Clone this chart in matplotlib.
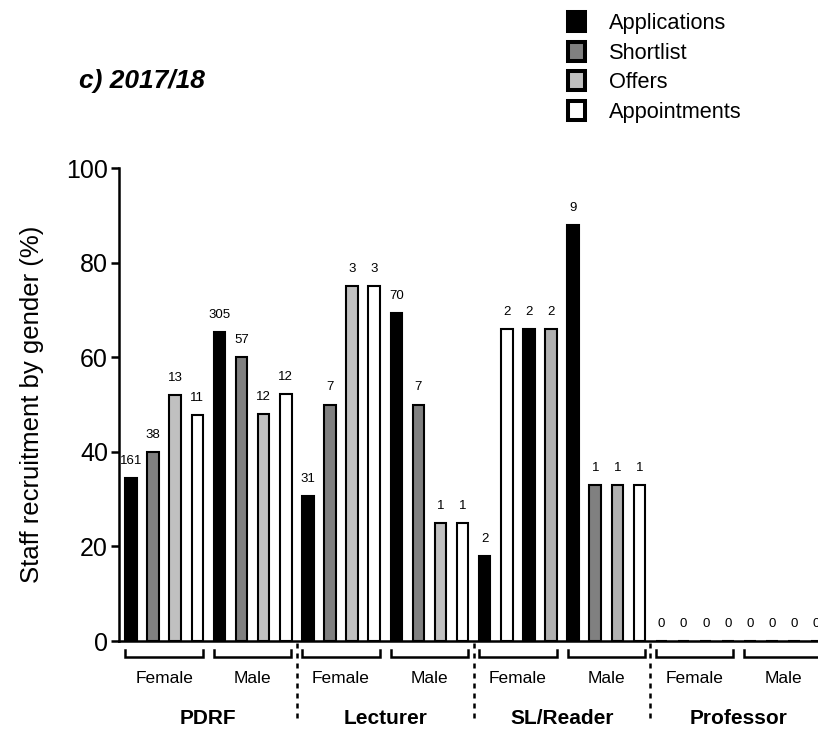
import matplotlib.pyplot as plt
from matplotlib.patches import Patch
import numpy as np

plt.rcParams['font.family'] = ['Liberation Sans', 'DejaVu Sans']

grades = ['PDRF', 'Lecturer', 'SL/Reader', 'Professor']
genders = ['Female', 'Male']
stages = ['Applications', 'Shortlist', 'Offers', 'Appointments']

# % by gender, order: PDRF F, PDRF M, Lecturer F, Lecturer M, SL F, SL M, Prof F, Prof M
applications = [34.5, 65.4, 30.7, 69.3, 18.0, 87.9, 0, 0]
shortlist = [40.0, 60.0, 50.0, 50.0, 66.0, 33.0, 0, 0]
offers = [52.0, 47.9, 75.0, 25.0, 66.0, 33.0, 0, 0]
appointments = [47.8, 52.2, 75.0, 25.0, 66.0, 33.0, 0, 0]

# head counts printed above the bars
applications_n = [161, 305, 31, 70, 2, 9, 0, 0]
shortlist_n = [38, 57, 7, 7, 2, 1, 0, 0]
offers_n = [13, 12, 3, 1, 2, 1, 0, 0]
appointments_n = [11, 12, 3, 1, 2, 1, 0, 0]

values = [applications, shortlist, offers, appointments]
counts = [applications_n, shortlist_n, offers_n, appointments_n]
colors = ['black', '#808080', '#c0c0c0', 'white']
# the original figure has a few bars shaded differently
color_fix = {(4, 1): 'white', (4, 2): 'black', (4, 3): '#b0b0b0', (5, 2): '#b0b0b0'}

fig = plt.figure(figsize=(8.18, 7.31), dpi=100)
ax = fig.add_axes([0.1455, 0.1231, 0.874, 0.647])

n_sub = len(grades) * len(genders)
for k in range(len(stages)):
    xs = np.arange(n_sub) * 4 + k
    cols = [color_fix.get((s, k), colors[k]) for s in range(n_sub)]
    ax.bar(xs, values[k], width=0.52, color=cols, edgecolor='black', linewidth=1.5)
    for x, v, c in zip(xs, values[k], counts[k]):
        ax.annotate(str(c), (x, v), xytext=(0, 8), textcoords='offset points',
                    ha='center', va='bottom', fontsize=9.5)

ax.set_xlim(-0.543, 31.8)
ax.set_ylim(0, 100)
ax.set_yticks([0, 20, 40, 60, 80, 100])
ax.set_xticks([])
ax.tick_params(axis='y', labelsize=18, length=6, width=1.8, pad=2)
ax.set_ylabel('Staff recruitment by gender (%)', fontsize=18.5, labelpad=16)
for side in ['top', 'right']:
    ax.spines[side].set_visible(False)
for side in ['left', 'bottom']:
    ax.spines[side].set_linewidth(1.8)

# brackets, gender and grade labels under the axis
tr = ax.get_xaxis_transform()
for g, grade in enumerate(grades):
    for s, gender in enumerate(genders):
        i0 = g * 8 + s * 4
        x0, x1 = i0 - 0.25, i0 + 3.25
        ax.plot([x0, x0, x1, x1], [-0.019, -0.034, -0.034, -0.019], color='black',
                lw=1.8, transform=tr, clip_on=False, solid_joinstyle='miter')
        ax.text(i0 + 1.5, -0.080, gender, transform=tr, ha='center', va='center',
                fontsize=12.5)
    ax.text(g * 8 + 3.5, -0.163, grade, transform=tr, ha='center', va='center',
            fontsize=15, fontweight='bold')
    if g > 0:
        ax.plot([g * 8 - 0.5] * 2, [-0.004, -0.167], color='black', lw=1.8,
                linestyle=(0, (2, 2)), transform=tr, clip_on=False)

fig.text(79 / 818, 1 - 81 / 731, 'c) 2017/18', fontsize=19, fontweight='bold',
         fontstyle='italic', ha='left', va='center')

handles = [Patch(facecolor=c, edgecolor='black', linewidth=2.9) for c in colors]
fig.legend(handles, stages, loc='upper left', bbox_to_anchor=(568 / 818, 1 - 12 / 731),
           frameon=False, fontsize=15.7, handlelength=0.8, handleheight=0.95,
           handletextpad=1.1, labelspacing=0.36, borderpad=0, borderaxespad=0)

fig.savefig('out.png', dpi=100)
